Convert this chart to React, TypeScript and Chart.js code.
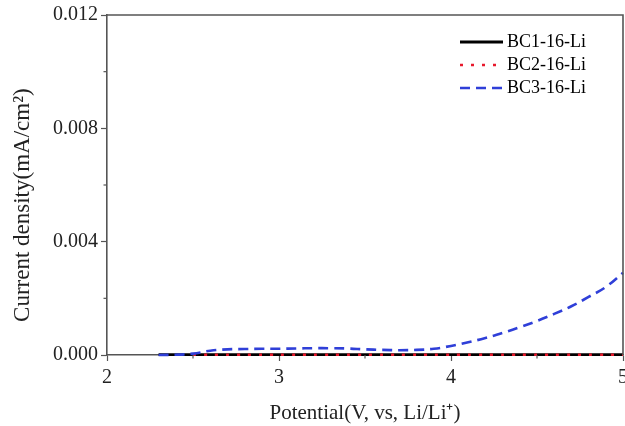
import React, { useEffect, useRef } from 'react';
import { Chart, registerables } from 'chart.js';

Chart.register(...registerables);

const bc1Potential = [2.3, 2.4, 2.5, 2.6, 2.7, 2.8, 2.9, 3.0, 3.1, 3.2, 3.3, 3.4, 3.5, 3.6, 3.7, 3.8, 3.9, 4.0, 4.1, 4.2, 4.3, 4.4, 4.5, 4.6, 4.7, 4.8, 4.9, 5.0];
const bc1Current = [0.00001, 0.00001, 0.00001, 0.00001, 0.00001, 0.00001, 0.00001, 0.00001, 0.00001, 0.00001, 0.00001, 0.00001, 0.00001, 0.00001, 0.00001, 0.00001, 0.00001, 0.00001, 0.00001, 0.00001, 0.00001, 0.00001, 0.00001, 0.00001, 0.00001, 0.00001, 0.00001, 0.00001];

const bc2Potential = [2.5, 2.6, 2.7, 2.8, 2.9, 3.0, 3.1, 3.2, 3.3, 3.4, 3.5, 3.6, 3.7, 3.8, 3.9, 4.0, 4.1, 4.2, 4.3, 4.4, 4.5, 4.6, 4.7, 4.8, 4.9, 5.0];
const bc2Current = [0.00001, 0.00001, 0.00001, 0.00001, 0.00001, 0.00001, 0.00001, 0.00001, 0.00001, 0.00001, 0.00001, 0.00001, 0.00001, 0.00001, 0.00001, 0.00001, 0.00001, 0.00001, 0.00001, 0.00001, 0.00001, 0.00001, 0.00001, 0.00001, 0.00001, 0.00001];

const bc3Potential = [2.3, 2.4, 2.5, 2.6, 2.7, 2.8, 2.9, 3.0, 3.1, 3.2, 3.3, 3.4, 3.5, 3.6, 3.7, 3.8, 3.9, 4.0, 4.1, 4.2, 4.3, 4.4, 4.5, 4.6, 4.7, 4.8, 4.9, 5.0];
const bc3Current = [0.0, 0.00001, 0.00005, 0.00015, 0.0002, 0.00021, 0.00022, 0.00022, 0.00023, 0.00024, 0.00024, 0.00023, 0.0002, 0.00018, 0.00017, 0.00018, 0.00022, 0.00032, 0.00045, 0.0006, 0.00078, 0.00098, 0.0012, 0.00145, 0.00172, 0.00205, 0.0024, 0.0029];

const seriesLabels = ['BC1-16-Li', 'BC2-16-Li', 'BC3-16-Li'];
const xMinorTicks = [2.5, 3.5, 4.5];
const yMinorTicks = [0.002, 0.006, 0.01];

const FONT = '"Liberation Serif", "Times New Roman", serif';
const AXIS_COLOR = '#555';

const toPoints = (xs: number[], ys: number[]) => xs.map((x, i) => ({ x, y: ys[i] }));

const legendPlugin = {
  id: 'customLegend',
  afterDraw(chart: any) {
    const { ctx, chartArea } = chart;
    const x0 = chartArea.right - 163;
    chart.data.datasets.forEach((ds: any, i: number) => {
      const y = chartArea.top + 27 + i * 23;
      ctx.save();
      ctx.strokeStyle = ds.borderColor;
      ctx.lineWidth = ds.borderWidth;
      ctx.setLineDash(ds.borderDash || []);
      ctx.lineCap = 'butt';
      ctx.beginPath();
      ctx.moveTo(x0, y);
      ctx.lineTo(x0 + 43, y);
      ctx.stroke();
      ctx.setLineDash([]);
      ctx.fillStyle = '#000';
      ctx.font = `18px ${FONT}`;
      ctx.textBaseline = 'middle';
      ctx.textAlign = 'left';
      ctx.fillText(ds.label, x0 + 47, y);
      ctx.restore();
    });
  },
};

const framePlugin = {
  id: 'frameAndMinorTicks',
  afterDraw(chart: any) {
    const { ctx, chartArea } = chart;
    const xs = chart.scales.x;
    const ys = chart.scales.y;
    ctx.save();
    ctx.strokeStyle = AXIS_COLOR;
    ctx.lineWidth = 1.6;
    ctx.beginPath();
    ctx.moveTo(chartArea.left, chartArea.top);
    ctx.lineTo(chartArea.right, chartArea.top);
    ctx.lineTo(chartArea.right, chartArea.bottom);
    ctx.stroke();
    ctx.lineWidth = 1.2;
    xMinorTicks.forEach((v) => {
      const px = xs.getPixelForValue(v);
      ctx.beginPath();
      ctx.moveTo(px, chartArea.bottom);
      ctx.lineTo(px, chartArea.bottom + 3.5);
      ctx.stroke();
    });
    yMinorTicks.forEach((v) => {
      const py = ys.getPixelForValue(v);
      ctx.beginPath();
      ctx.moveTo(chartArea.left - 3.5, py);
      ctx.lineTo(chartArea.left, py);
      ctx.stroke();
    });
    ctx.restore();
  },
};

export default function App() {
  const ref = useRef<HTMLCanvasElement>(null);

  useEffect(() => {
    if (!ref.current) return;
    const chart = new Chart(ref.current, {
      type: 'line',
      data: {
        datasets: [
          {
            label: seriesLabels[0],
            data: toPoints(bc1Potential, bc1Current),
            borderColor: '#000000',
            borderWidth: 2.8,
            pointRadius: 0,
            tension: 0.3,
            clip: 8,
            order: 3,
          },
          {
            label: seriesLabels[1],
            data: toPoints(bc2Potential, bc2Current),
            borderColor: '#e8192c',
            borderWidth: 2.6,
            borderDash: [3, 8],
            pointRadius: 0,
            tension: 0.3,
            clip: 8,
            order: 2,
          },
          {
            label: seriesLabels[2],
            data: toPoints(bc3Potential, bc3Current),
            borderColor: '#2f3fd8',
            borderWidth: 2.6,
            borderDash: [10, 6],
            pointRadius: 0,
            tension: 0.4,
            clip: 8,
            order: 1,
          },
        ],
      } as any,
      options: {
        animation: false,
        responsive: true,
        maintainAspectRatio: false,
        layout: { padding: { top: 15, right: 2, bottom: 0, left: 0 } },
        plugins: {
          legend: { display: false },
          tooltip: { enabled: false },
        },
        scales: {
          x: {
            type: 'linear',
            min: 2,
            max: 5,
            ticks: {
              stepSize: 1,
              color: '#222',
              font: { family: FONT, size: 20 },
              padding: 5,
              maxRotation: 0,
            },
            grid: { drawOnChartArea: false, tickLength: 6, color: AXIS_COLOR, tickWidth: 1.2 },
            border: { display: true, color: AXIS_COLOR, width: 1.6 },
            title: {
              display: true,
              text: 'Potential(V, vs, Li/Li⁺)',
              color: '#222',
              font: { family: FONT, size: 21 },
              padding: { top: 0, bottom: 0 },
            },
            afterFit: (scale: any) => {
              scale.height = 71;
              scale.paddingLeft = 0;
              scale.paddingRight = 0;
            },
          },
          y: {
            type: 'linear',
            min: 0,
            max: 0.012,
            ticks: {
              stepSize: 0.004,
              color: '#222',
              font: { family: FONT, size: 20 },
              padding: 3,
              callback: (v: any) => Number(v).toFixed(3),
            },
            grid: { drawOnChartArea: false, tickLength: 6, color: AXIS_COLOR, tickWidth: 1.2 },
            border: { display: true, color: AXIS_COLOR, width: 1.6 },
            title: {
              display: true,
              text: 'Current density(mA/cm²)       ',
              color: '#222',
              font: { family: FONT, size: 23 },
              padding: { top: 9, bottom: 0 },
            },
            afterFit: (scale: any) => {
              scale.width = 107;
              scale.paddingTop = 0;
              scale.paddingBottom = 0;
            },
          },
        },
      } as any,
      plugins: [legendPlugin, framePlugin],
    });
    return () => chart.destroy();
  }, []);

  return (
    <div style={{ position: 'absolute', left: 0, top: 0, width: 625, height: 426, overflow: 'hidden', background: '#fff' }}>
      <canvas ref={ref} />
    </div>
  );
}
